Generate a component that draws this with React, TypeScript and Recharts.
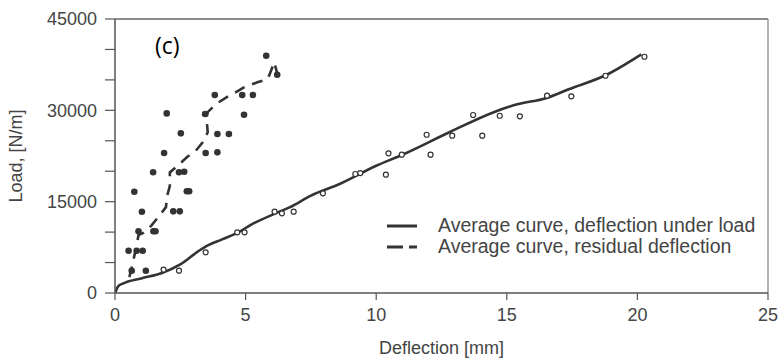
import React from 'react';
import { ComposedChart, Line, Scatter, XAxis, YAxis, ReferenceLine, Legend } from 'recharts';

// Average curve, deflection under load [mm, N/m]
const underLoadCurve: [number, number][] = [
  [0, 0], [0.12, 1100], [0.3, 1550], [1.0, 2400], [1.8, 3300], [2.5, 4700],
  [3.2, 6900], [3.5, 7700], [4.1, 8800], [4.7, 9900], [5.2, 11200], [6.1, 13000],
  [6.7, 14100], [7.5, 16000], [8.6, 17900], [10.0, 20900], [11.0, 22700],
  [12.8, 26400], [14.5, 29700], [15.4, 31000], [16.5, 32000], [17.4, 33500],
  [18.8, 35800], [20.15, 39200],
];

// Average curve, residual deflection
const residualCurve: [number, number][] = [
  [0.55, 2600], [0.8, 7200], [0.9, 9500], [1.1, 9900], [1.4, 11100], [1.7, 12700],
  [1.95, 14100], [2.0, 16000], [2.1, 17600], [2.1, 19800], [2.4, 20900],
  [2.75, 22300], [3.1, 23400], [3.35, 24700], [3.55, 26400], [3.5, 28800],
  [3.55, 29700], [3.85, 31000], [4.25, 32100], [4.6, 32900], [4.95, 33800],
  [5.45, 34600], [5.85, 35150], [6.1, 37900], [6.2, 36200],
];

// Measured points, deflection under load (open circles)
const underLoadPoints: [number, number][] = [
  [1.86, 3830], [2.45, 3660], [3.47, 6680], [4.68, 9970], [4.96, 9970],
  [6.11, 13350], [6.39, 13080], [6.84, 13350], [7.96, 16370], [9.2, 19540],
  [9.39, 19700], [10.37, 19430], [10.47, 22940], [10.98, 22710], [11.93, 25990],
  [12.08, 22710], [12.91, 25830], [13.71, 29230], [14.06, 25830], [14.73, 29110],
  [15.5, 29010], [16.54, 32400], [17.47, 32300], [18.78, 35680], [20.27, 38800],
];

// Measured points, residual deflection (filled dots)
const residualPoints: [number, number][] = [
  [5.79, 38960], [6.21, 35850], [1.98, 29500], [3.82, 32510], [4.87, 32510],
  [5.28, 32510], [3.45, 29400], [4.94, 29280], [2.52, 26220], [3.92, 26110],
  [4.36, 26110], [1.88, 22990], [3.47, 22990], [3.92, 23100], [1.46, 19820],
  [2.45, 19820], [2.65, 19920], [0.74, 16630], [2.75, 16700], [2.84, 16700],
  [1.03, 13350], [2.23, 13410], [2.48, 13410], [0.9, 10130], [1.47, 10130],
  [1.55, 10130], [0.52, 6950], [0.83, 6950], [1.06, 6950], [0.64, 3660],
  [1.18, 3660],
];

const xTicks = [0, 5, 10, 15, 20, 25];
const yTicks = [0, 5000, 10000, 15000, 20000, 25000, 30000, 35000, 40000, 45000];
const yLabelled = [0, 15000, 30000, 45000];

const legendItems = [
  { label: 'Average curve, deflection under load', dash: undefined as string | undefined },
  { label: 'Average curve, residual deflection', dash: '16 6' },
];

const toObj = (arr: [number, number][]) => arr.map(([x, y]) => ({ x, y }));

const FONT = '"Liberation Sans", Arial, sans-serif';
const TEXT = '#444';
const AXIS = '#555';
const INK = '#333';

const FilledDot = (props: any) => {
  const { cx, cy } = props;
  if (cx == null || cy == null) return null;
  return <circle cx={cx} cy={cy} r={3.3} fill={INK} />;
};

const OpenDot = (props: any) => {
  const { cx, cy } = props;
  if (cx == null || cy == null) return null;
  return <circle cx={cx} cy={cy} r={2.5} fill="#fff" stroke={INK} strokeWidth={1.2} />;
};

const LegendContent = () => (
  <div style={{ fontFamily: FONT, fontSize: 19.5, color: TEXT }}>
    {legendItems.map((it) => (
      <div key={it.label} style={{ display: 'flex', alignItems: 'center', height: 21, whiteSpace: 'nowrap' }}>
        <svg width={32} height={10} style={{ marginRight: 20 }}>
          <line x1={1} y1={5} x2={31} y2={5} stroke={INK} strokeWidth={3} strokeDasharray={it.dash} />
        </svg>
        <span>{it.label}</span>
      </div>
    ))}
  </div>
);

export default function App() {
  return (
    <div style={{ position: 'absolute', left: 0, top: 0, width: 782, height: 363, background: '#fff' }}>
      <ComposedChart width={782} height={363} margin={{ top: 19, right: 14, bottom: 0, left: 0 }}>
        <XAxis
          type="number"
          dataKey="x"
          domain={[0, 25]}
          ticks={xTicks}
          allowDataOverflow
          tickSize={7}
          tickMargin={8}
          height={70}
          axisLine={{ stroke: AXIS, strokeWidth: 1.5 }}
          tickLine={{ stroke: AXIS, strokeWidth: 1.2 }}
          tick={{ fill: TEXT, fontSize: 18, fontFamily: FONT }}
          label={{ value: 'Deflection [mm]', position: 'insideBottom', offset: 9, fill: TEXT, fontSize: 18, fontFamily: FONT }}
        />
        <YAxis
          type="number"
          dataKey="y"
          domain={[0, 45000]}
          ticks={yTicks}
          interval={0}
          allowDataOverflow
          width={115}
          tickSize={10}
          tickMargin={8}
          tickFormatter={(v: number) => (yLabelled.includes(v) ? String(v) : '')}
          axisLine={{ stroke: AXIS, strokeWidth: 1.5 }}
          tickLine={{ stroke: AXIS, strokeWidth: 1.2 }}
          tick={{ fill: TEXT, fontSize: 18, fontFamily: FONT }}
          label={{ value: 'Load, [N/m]', angle: -90, position: 'insideLeft', offset: 16, fill: TEXT, fontSize: 18, fontFamily: FONT, style: { textAnchor: 'middle' } }}
        />
        <ReferenceLine y={45000} stroke="#666" strokeWidth={1.5} ifOverflow="extendDomain" />
        <ReferenceLine x={25} stroke="#999" strokeWidth={1.5} ifOverflow="extendDomain" />
        <Line
          data={toObj(underLoadCurve)}
          dataKey="y"
          type="monotone"
          stroke={INK}
          strokeWidth={2.6}
          dot={false}
          activeDot={false}
          isAnimationActive={false}
          legendType="none"
        />
        <Line
          data={toObj(residualCurve)}
          dataKey="y"
          type="linear"
          stroke={INK}
          strokeWidth={2.6}
          strokeDasharray="11 8"
          dot={false}
          activeDot={false}
          isAnimationActive={false}
          legendType="none"
        />
        <Scatter data={toObj(underLoadPoints)} dataKey="y" shape={<OpenDot />} isAnimationActive={false} legendType="none" />
        <Scatter data={toObj(residualPoints)} dataKey="y" shape={<FilledDot />} isAnimationActive={false} legendType="none" />
        <Legend
          layout="vertical"
          align="center"
          verticalAlign="middle"
          content={<LegendContent />}
          wrapperStyle={{ position: 'absolute', left: 386, top: 215, width: 390, height: 42 }}
        />
      </ComposedChart>
      <div
        style={{
          position: 'absolute',
          left: 155,
          top: 30,
          fontFamily: '"Open Sans", sans-serif',
          fontSize: 23,
          lineHeight: '30px',
          color: '#000',
        }}
      >
        (c)
      </div>
    </div>
  );
}
